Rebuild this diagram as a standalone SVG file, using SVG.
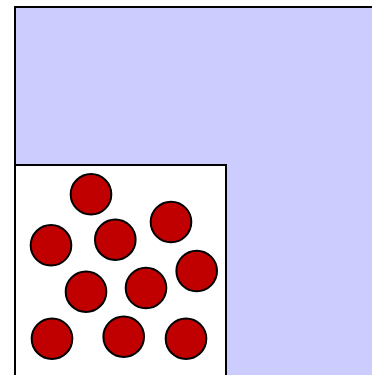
<svg xmlns="http://www.w3.org/2000/svg" width="372" height="375" viewBox="0 0 372 375">
<style>
.ball{fill:#c00000;stroke:#000;stroke-width:2}
</style>
<rect width="372" height="375" fill="#fff"/>
<g id="outer"><rect x="15" y="7" width="400" height="400" fill="#ccccff" stroke="#000" stroke-width="2"/></g>
<g id="box"><rect x="15" y="165" width="211" height="240" fill="#fff" stroke="#000" stroke-width="2"/></g>
<g id="balls">
<circle class="ball" cx="91" cy="194.3" r="20.3"/>
<circle class="ball" cx="171" cy="222" r="20.3"/>
<circle class="ball" cx="51" cy="245.3" r="20.3"/>
<circle class="ball" cx="115.3" cy="239.7" r="20.3"/>
<circle class="ball" cx="196.7" cy="271" r="20.3"/>
<circle class="ball" cx="86" cy="291.7" r="20.3"/>
<circle class="ball" cx="146" cy="288" r="20.3"/>
<circle class="ball" cx="52" cy="338.7" r="20.3"/>
<circle class="ball" cx="123.7" cy="336.7" r="20.3"/>
<circle class="ball" cx="186" cy="338.7" r="20.3"/>
</g>
</svg>
